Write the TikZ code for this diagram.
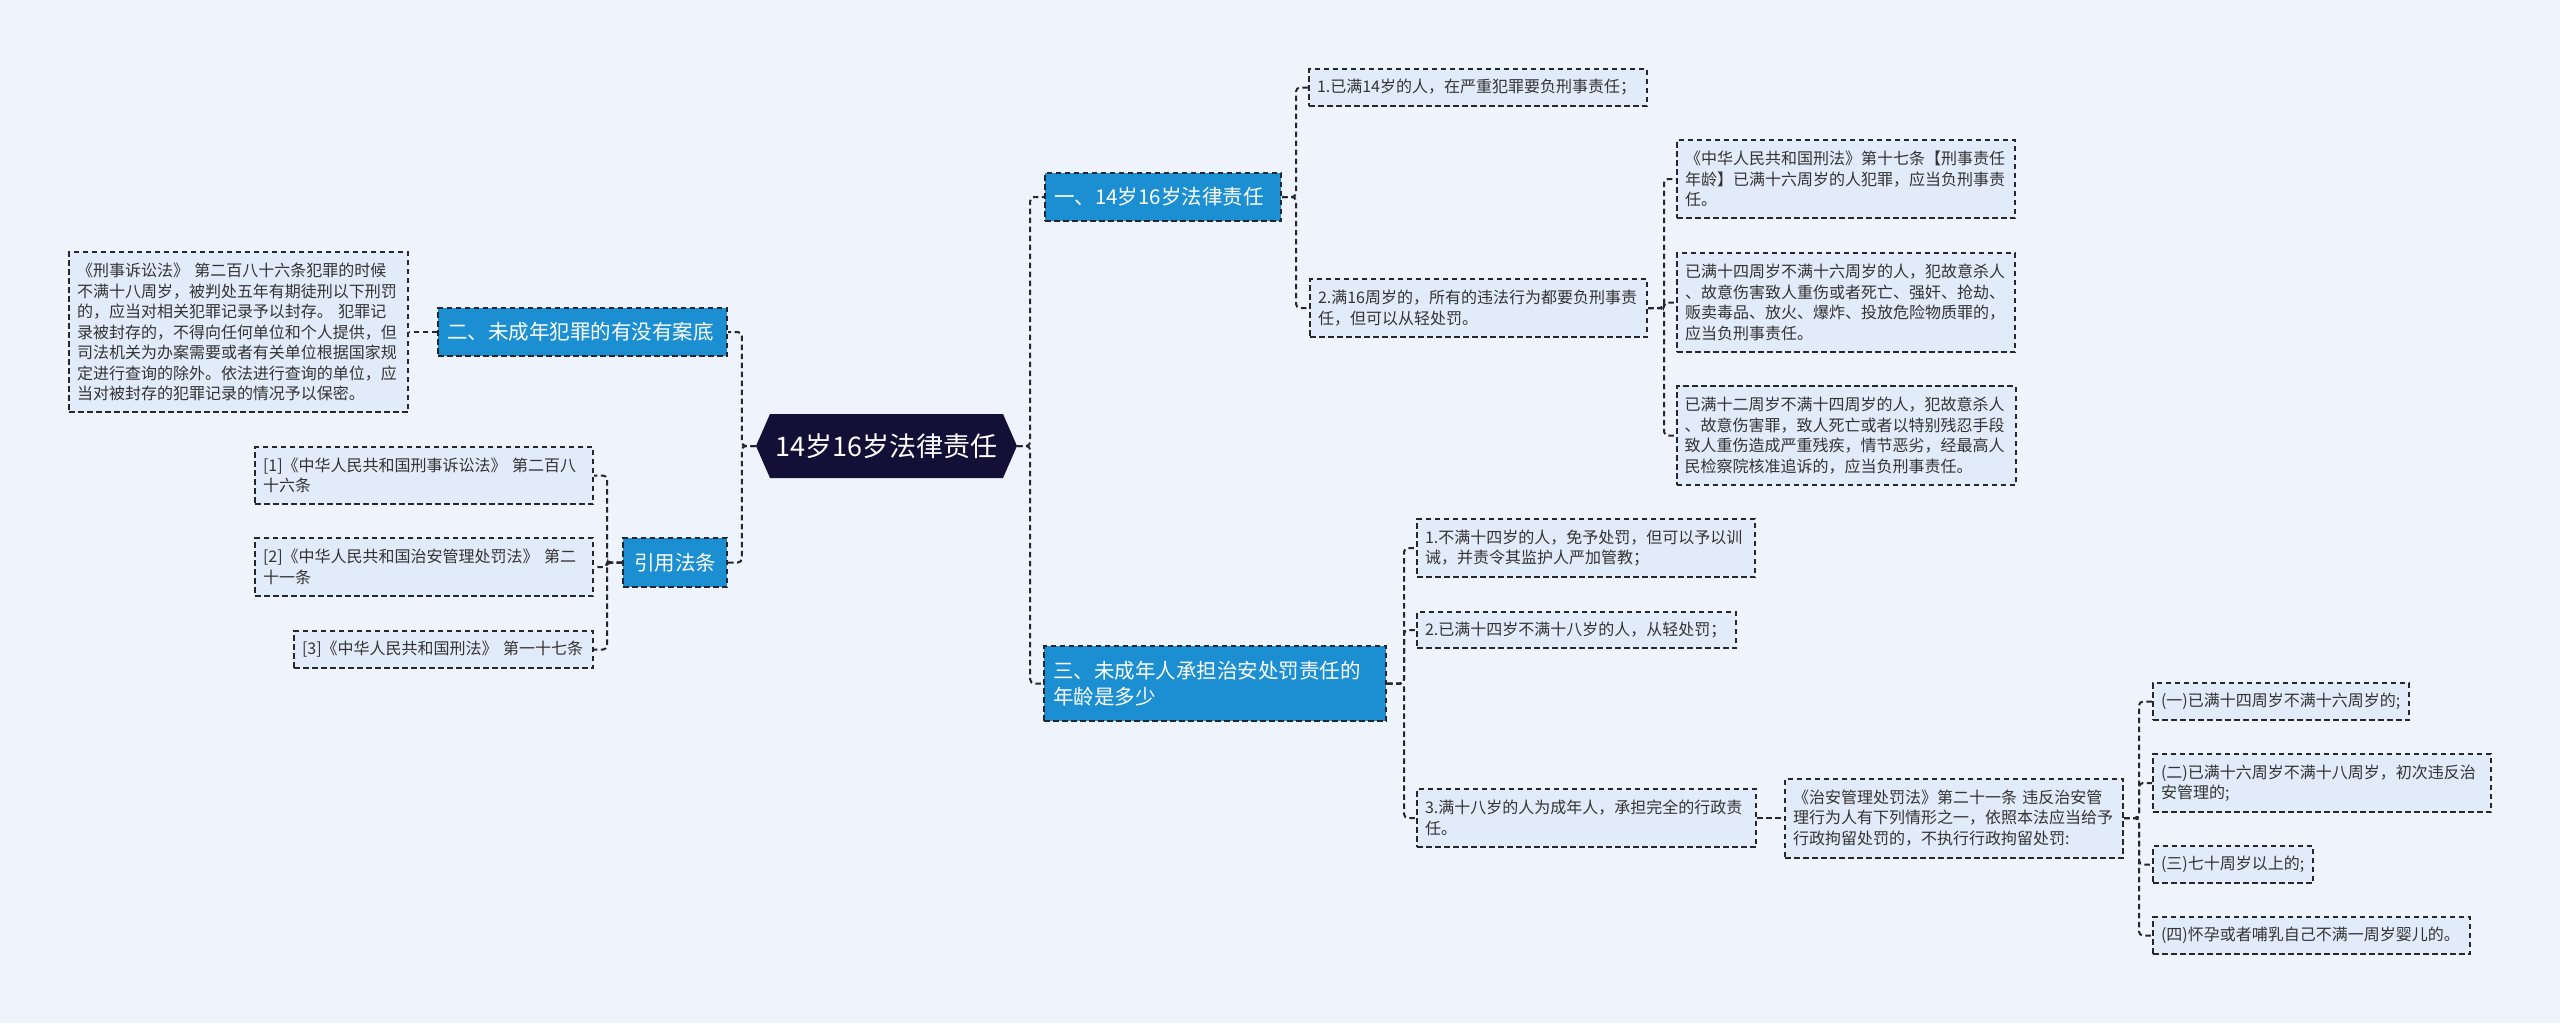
\documentclass[tikz,border=0pt]{standalone}
\usepackage{fontspec}
\setmainfont{Noto Sans CJK SC}
\definecolor{bgc}{HTML}{EEF3FC}
\definecolor{leafc}{HTML}{E2EBFA}
\definecolor{catc}{HTML}{1B8FD2}
\definecolor{rootc}{HTML}{140F36}
\definecolor{lnc}{HTML}{26262E}
\definecolor{txtc}{HTML}{333333}
\begin{document}
\begin{tikzpicture}[x=1pt,y=-1pt,
  conn/.style={draw=lnc, line width=2pt, dash pattern=on 5.5pt off 3.5pt, rounded corners=4pt},
  leaf/.style={draw=lnc, line width=2pt, dash pattern=on 5.5pt off 3.5pt, fill=leafc, text=txtc,
    inner xsep=8pt, inner ysep=0pt, align=left, font=\fontsize{16}{20.5}\selectfont},
  catn/.style={draw=lnc, line width=2pt, dash pattern=on 5.5pt off 3.5pt, fill=catc, text=white,
    inner xsep=9pt, inner ysep=0pt, align=left, font=\fontsize{20.5}{26}\selectfont},
  rootn/.style={minimum width=261pt, minimum height=64pt, inner sep=0pt, text=white,
    font=\fontsize{27}{32}\selectfont, fill=bgc,
    path picture={\fill[rootc] (path picture bounding box.west)
      -- ([xshift=14pt]path picture bounding box.north west)
      -- ([xshift=-14pt]path picture bounding box.north east)
      -- (path picture bounding box.east)
      -- ([xshift=-14pt]path picture bounding box.south east)
      -- ([xshift=14pt]path picture bounding box.south west) -- cycle;}},
]
\fill[bgc] (0,0) rectangle (2560,1023);
\useasboundingbox (0,0) rectangle (2560,1023);

% root
\node[rootn] (root) at (886.5,446) {14岁16岁法律责任};

% categories
\node[catn, minimum width=289pt, minimum height=48pt, text width=271pt] (cat2) at (582.5,332) {二、未成年犯罪的有没有案底};
\node[catn, minimum width=104pt, minimum height=49pt, text width=86pt, align=center] (cat3) at (675,562.5) {引用法条};
\node[catn, minimum width=236pt, minimum height=48pt, text width=218pt] (cat1) at (1163,197) {一、14岁16岁法律责任};
\node[catn, minimum width=342pt, minimum height=75pt, text width=324pt] (cat4) at (1215,683.5) {三、未成年人承担治安处罚责任的\\年龄是多少};

% left leaves
\node[leaf, minimum width=339pt, minimum height=160pt, text width=323pt] (L0) at (238.5,332) {《刑事诉讼法》 第二百八十六条犯罪的时候\\不满十八周岁，被判处五年有期徒刑以下刑罚\\的，应当对相关犯罪记录予以封存。 犯罪记\\录被封存的，不得向任何单位和个人提供，但\\司法机关为办案需要或者有关单位根据国家规\\定进行查询的除外。依法进行查询的单位，应\\当对被封存的犯罪记录的情况予以保密。};
\node[leaf, minimum width=338pt, minimum height=57pt, text width=322pt] (R1) at (424,475.5) {[1]《中华人民共和国刑事诉讼法》 第二百八\\十六条};
\node[leaf, minimum width=338pt, minimum height=58pt, text width=322pt] (R2) at (424,567) {[2]《中华人民共和国治安管理处罚法》 第二\\十一条};
\node[leaf, minimum width=299pt, minimum height=37pt, text width=283pt] (R3) at (443.5,649.5) {[3]《中华人民共和国刑法》 第一十七条};

% branch one
\node[leaf, minimum width=338pt, minimum height=37pt, text width=322pt] (A1) at (1478,87.5) {1.已满14岁的人，在严重犯罪要负刑事责任；};
\node[leaf, minimum width=337pt, minimum height=58pt, text width=321pt] (A2) at (1478.5,308) {2.满16周岁的，所有的违法行为都要负刑事责\\任，但可以从轻处罚。};
\node[leaf, minimum width=338pt, minimum height=78pt, text width=322pt] (B1) at (1846,179) {《中华人民共和国刑法》第十七条【刑事责任\\年龄】已满十六周岁的人犯罪，应当负刑事责\\任。};
\node[leaf, minimum width=338pt, minimum height=99pt, text width=322pt] (B2) at (1846,302.5) {已满十四周岁不满十六周岁的人，犯故意杀人\\、故意伤害致人重伤或者死亡、强奸、抢劫、\\贩卖毒品、放火、爆炸、投放危险物质罪的，\\应当负刑事责任。};
\node[leaf, minimum width=339pt, minimum height=99pt, text width=323pt] (B3) at (1846,435.5) {已满十二周岁不满十四周岁的人，犯故意杀人\\、故意伤害罪，致人死亡或者以特别残忍手段\\致人重伤造成严重残疾，情节恶劣，经最高人\\民检察院核准追诉的，应当负刑事责任。};

% branch three
\node[leaf, minimum width=338pt, minimum height=58pt, text width=322pt] (C1) at (1586,548) {1.不满十四岁的人，免予处罚，但可以予以训\\诫，并责令其监护人严加管教；};
\node[leaf, minimum width=319pt, minimum height=36pt, text width=303pt] (C2) at (1576.5,630) {2.已满十四岁不满十八岁的人，从轻处罚；};
\node[leaf, minimum width=339pt, minimum height=58pt, text width=323pt] (C3) at (1586.5,818) {3.满十八岁的人为成年人，承担完全的行政责\\任。};
\node[leaf, minimum width=338pt, minimum height=79pt, text width=322pt] (D) at (1954,818) {《治安管理处罚法》第二十一条 违反治安管\\理行为人有下列情形之一，依照本法应当给予\\行政拘留处罚的，不执行行政拘留处罚:};
\node[leaf, minimum width=256pt, minimum height=37pt, text width=240pt] (E1) at (2281,701.5) {(一)已满十四周岁不满十六周岁的;};
\node[leaf, minimum width=338pt, minimum height=58pt, text width=322pt] (E2) at (2322,783) {(二)已满十六周岁不满十八周岁，初次违反治\\安管理的;};
\node[leaf, minimum width=160pt, minimum height=37pt, text width=144pt] (E3) at (2233,864.5) {(三)七十周岁以上的;};
\node[leaf, minimum width=317pt, minimum height=37pt, text width=301pt] (E4) at (2311.5,935.5) {(四)怀孕或者哺乳自己不满一周岁婴儿的。};

% connectors
\draw[conn] (root.east) -- ++(13,0) |- (cat1.west);
\draw[conn] (root.east) -- ++(13,0) |- (cat4.west);
\draw[conn] (root.west) -- ++(-14,0) |- (cat2.east);
\draw[conn] (root.west) -- ++(-14,0) |- (cat3.east);
\draw[conn] (cat2.west) -- (L0.east);
\foreach \c in {R1,R2,R3} \draw[conn] (cat3.west) -- ++(-15,0) |- (\c.east);
\foreach \c in {A1,A2} \draw[conn] (cat1.east) -- ++(14,0) |- (\c.west);
\foreach \c in {B1,B2,B3} \draw[conn] (A2.east) -- ++(16,0) |- (\c.west);
\foreach \c in {C1,C2,C3} \draw[conn] (cat4.east) -- ++(17,0) |- (\c.west);
\draw[conn] (C3.east) -- (D.west);
\foreach \c in {E1,E2,E3,E4} \draw[conn] (D.east) -- ++(15,0) |- (\c.west);
\end{tikzpicture}
\end{document}
